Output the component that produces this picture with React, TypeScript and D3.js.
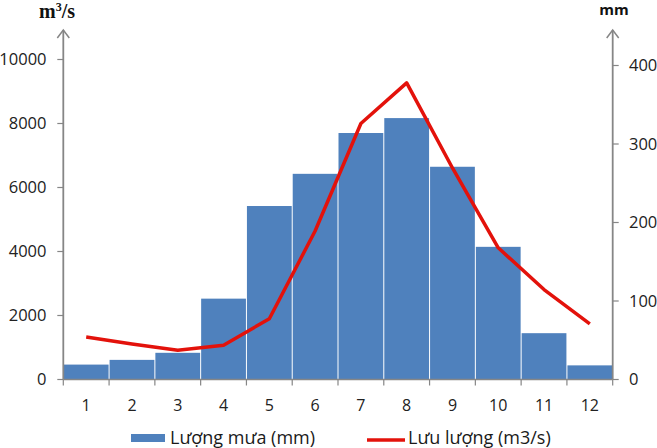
import * as d3 from "d3";

const months = ["1", "2", "3", "4", "5", "6", "7", "8", "9", "10", "11", "12"];
// Lượng mưa (mm) – right axis
const rain = [19, 25, 34, 103, 221, 262, 314, 333, 271, 169, 59, 18];
// Lưu lượng (m3/s) – left axis
const flow = [1330, 1110, 915, 1070, 1900, 4640, 8000, 9270, 6610, 4115, 2810, 1740];

const W = 657;
const H = 448;
const axisColor = "#868686";
const barColor = "#4F81BD";
const lineColor = "#E3120B";
const font = "'Open Sans', 'Noto Sans', sans-serif";

export default function App() {
  const x = d3.scaleBand().domain(months).range([63.3, 612.7]).padding(0);
  const yLeft = d3.scaleLinear().domain([0, 10000]).range([379.5, 59.5]);
  const yRight = d3.scaleLinear().domain([0, 400]).range([379.5, 65.5]);
  const bw = x.bandwidth();

  const line = d3
    .line<number>()
    .x((_, i) => x(months[i])! + bw / 2)
    .y((d) => yLeft(d));

  const x0 = x.range()[0];
  const x1 = x.range()[1];
  const base = yLeft(0);
  const top = 30;

  const arrow = (ax: number) => `M${ax - 6},${top + 8} L${ax},${top} L${ax + 6},${top + 8}`;

  return (
    <svg
      width={W}
      height={H}
      style={{ position: "absolute", left: 0, top: 0, background: "#fff" }}
      fontFamily={font}
    >
      {/* bars */}
      {rain.map((v, i) => (
        <rect
          key={months[i]}
          x={x(months[i])! + 0.5}
          y={yRight(v)}
          width={bw - 1}
          height={base - yRight(v)}
          fill={barColor}
        />
      ))}

      {/* flow line */}
      <path d={line(flow)!} fill="none" stroke={lineColor} strokeWidth={3.5} strokeLinejoin="round" />

      {/* x axis */}
      <line x1={x0} x2={x1} y1={base} y2={base} stroke={axisColor} strokeWidth={1.3} />
      {months.map((m) => (
        <line key={m} x1={x(m)!} x2={x(m)!} y1={base} y2={base + 6} stroke={axisColor} strokeWidth={1.2} />
      ))}
      <line x1={x1} x2={x1} y1={base} y2={base + 6} stroke={axisColor} strokeWidth={1.2} />
      {months.map((m) => (
        <text key={m} x={x(m)! + bw / 2} y={410.5} textAnchor="middle" fontSize={16} fill="#222">
          {m}
        </text>
      ))}

      {/* left axis */}
      <line x1={x0} x2={x0} y1={base} y2={top} stroke={axisColor} strokeWidth={1.8} />
      <path d={arrow(x0)} fill="none" stroke={axisColor} strokeWidth={1.5} />
      {yLeft.ticks(5).map((t) => (
        <g key={t}>
          <line x1={x0 - 6} x2={x0} y1={yLeft(t)} y2={yLeft(t)} stroke={axisColor} strokeWidth={1.2} />
          <text x={46.5} y={yLeft(t)} dy="0.35em" textAnchor="end" fontSize={16.5} fill="#222">
            {t}
          </text>
        </g>
      ))}
      <text x={39} y={18} fontFamily="'Liberation Serif', serif" fontWeight="bold" fontSize={20} fill="#111">
        m<tspan dy={-7} fontSize={12}>3</tspan>
        <tspan dy={7}>/s</tspan>
      </text>

      {/* right axis */}
      <line x1={x1} x2={x1} y1={base} y2={top} stroke={axisColor} strokeWidth={1.8} />
      <path d={arrow(x1)} fill="none" stroke={axisColor} strokeWidth={1.5} />
      {yRight.ticks(4).map((t) => (
        <g key={t}>
          <line x1={x1} x2={x1 + 6} y1={yRight(t)} y2={yRight(t)} stroke={axisColor} strokeWidth={1.2} />
          <text x={629} y={yRight(t)} dy="0.35em" textAnchor="start" fontSize={16.5} fill="#222">
            {t}
          </text>
        </g>
      ))}
      <text x={614} y={15} textAnchor="middle" fontWeight="bold" fontSize={15} fill="#111">
        mm
      </text>

      {/* legend */}
      <rect x={131} y={434} width={34} height={8} fill={barColor} />
      <text x={170} y={444} fontSize={18} fill="#1a1a1a">
        Lượng mưa (mm)
      </text>
      <line x1={367} x2={405} y1={440} y2={440} stroke={lineColor} strokeWidth={3.5} />
      <text x={408} y={444} fontSize={18} fill="#1a1a1a">
        Lưu lượng (m3/s)
      </text>
    </svg>
  );
}
